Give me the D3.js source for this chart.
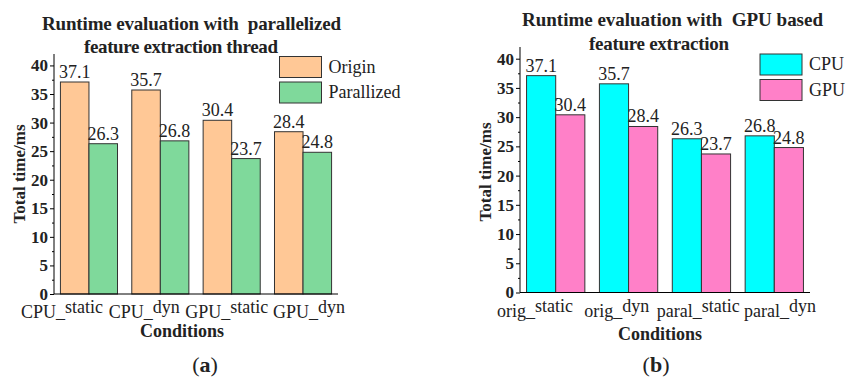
<!DOCTYPE html>
<html>
<head>
<meta charset="utf-8">
<script src="https://cdn.jsdelivr.net/npm/d3@7/dist/d3.min.js"></script>
<style>
  html, body { margin: 0; padding: 0; background: #fff; }
  svg text { font-family: "Liberation Serif", "DejaVu Serif", serif; fill: #222; }
  svg text.bold { font-weight: bold; }
  svg text.title { white-space: pre; }
</style>
</head>
<body>
<svg id="chart" width="846" height="378"></svg>
<script>
// ---- data -------------------------------------------------------
const condsA   = ['CPU_static', 'CPU_dyn', 'GPU_static', 'GPU_dyn'];
const originA  = [37.1, 35.7, 30.4, 28.4];
const parallA  = [26.3, 26.8, 23.7, 24.8];
const seriesA  = ['Origin', 'Parallized'];

const condsB   = ['orig_static', 'orig_dyn', 'paral_static', 'paral_dyn'];
const cpuB     = [37.1, 35.7, 26.3, 26.8];
const gpuB     = [30.4, 28.4, 23.7, 24.8];
const seriesB  = ['CPU', 'GPU'];

const yTicks   = [0, 5, 10, 15, 20, 25, 30, 35, 40];
const yMax     = 42;

// ---- one panel --------------------------------------------------
function panel(svg, o) {
  const g = svg.append('g');
  const x = d3.scaleBand().domain(o.conds).range([o.x0, o.x1])
    .paddingInner(0.2).paddingOuter(0.09);
  const xs = d3.scaleBand().domain([0, 1]).range([0, x.bandwidth()]);
  const y = d3.scaleLinear().domain([0, yMax]).range([o.y0, o.yTop]);

  // bars
  const rows = [];
  o.conds.forEach((c, i) => o.values.forEach((vals, s) =>
    rows.push({ c, s, v: vals[i] })));

  g.selectAll('rect.bar').data(rows).enter().append('rect')
    .attr('class', 'bar')
    .attr('x', d => x(d.c) + xs(d.s))
    .attr('y', d => y(d.v))
    .attr('width', xs.bandwidth())
    .attr('height', d => y(0) - y(d.v))
    .attr('fill', d => o.colors[d.s])
    .attr('stroke', '#333').attr('stroke-width', 1);

  g.selectAll('text.val').data(rows).enter().append('text')
    .attr('class', 'val')
    .attr('x', d => x(d.c) + xs(d.s) + xs.bandwidth() / 2)
    .attr('y', d => y(d.v) - 4)
    .attr('text-anchor', 'middle')
    .style('font-size', '18px')
    .text(d => d.v.toFixed(1));

  // y axis
  const minor = d3.range(0, yMax, 2.5).filter(v => v % 5 !== 0);
  g.append('g').attr('transform', `translate(${o.x0},0)`)
    .call(d3.axisLeft(y).tickValues(minor).tickSize(2).tickFormat(''))
    .call(a => a.select('.domain').remove());
  const ya = g.append('g').attr('transform', `translate(${o.x0},0)`)
    .call(d3.axisLeft(y).tickValues(yTicks).tickSize(4).tickSizeOuter(0).tickPadding(2));
  ya.selectAll('text').attr('class', 'bold').style('font-size', '17px').attr('fill', '#222');
  ya.select('.domain').attr('d', `M0,${y(yMax)}V${y(0)}`);

  // x axis
  g.append('line')
    .attr('x1', o.x0).attr('x2', o.x1).attr('y1', y(0)).attr('y2', y(0))
    .attr('stroke', '#000');

  const lx = d3.scalePoint().domain(o.conds).range(o.labRange);
  const lab = g.selectAll('text.xl').data(o.conds).enter().append('text')
    .attr('class', 'xl')
    .attr('x', d => lx(d))
    .attr('y', y(0) + 24)
    .attr('text-anchor', 'middle')
    .style('font-size', '18px');
  lab.append('tspan').text(d => d.split('_')[0] + '_');
  lab.append('tspan').attr('dy', -5).text(d => d.split('_')[1]);

  g.append('text').attr('class', 'bold')
    .attr('x', o.condX).attr('y', o.condY)
    .attr('text-anchor', 'middle')
    .style('font-size', '18px')
    .text('Conditions');

  g.append('text').attr('class', 'bold')
    .attr('transform', `translate(${o.ylabX},${o.ylabY}) rotate(-90)`)
    .attr('text-anchor', 'middle')
    .style('font-size', '17px')
    .text('Total time/ms');

  // title
  o.title.forEach((t, i) => g.append('text').attr('class', 'bold title')
    .attr('x', o.titleX[i]).attr('y', o.titleY[i])
    .attr('text-anchor', 'middle')
    .attr('textLength', o.titleW[i]).attr('lengthAdjust', 'spacing')
    .style('font-size', '19px')
    .text(t));

  // legend
  const lg = g.selectAll('g.leg').data(o.series).enter().append('g')
    .attr('class', 'leg')
    .attr('transform', (d, i) => `translate(${o.legX},${o.legY + i * 25.5})`);
  lg.append('rect').attr('width', 42).attr('height', 21)
    .attr('fill', (d, i) => o.colors[i])
    .attr('stroke', '#333').attr('stroke-width', 1);
  lg.append('text').attr('x', 49).attr('y', 16)
    .style('font-size', '18px')
    .text(d => d);

  // panel tag
  const tag = g.append('text')
    .attr('x', o.tagX).attr('y', 372)
    .attr('text-anchor', 'middle')
    .style('font-size', '22px');
  tag.append('tspan').text('(');
  tag.append('tspan').style('font-weight', 'bold').text(o.tag);
  tag.append('tspan').text(')');
}

const svg = d3.select('#chart');

panel(svg, {
  conds: condsA, values: [originA, parallA], series: seriesA,
  colors: ['#ffc896', '#7fd99b'],
  x0: 54, x1: 338, y0: 294, yTop: 54,
  labRange: [62, 309],
  condX: 182, condY: 337,
  ylabX: 25, ylabY: 174,
  title: ['Runtime evaluation with  parallelized', 'feature extraction thread'],
  titleX: [191.5, 181], titleY: [30, 53], titleW: [299, 194],
  legX: 279.5, legY: 56.5,
  tag: 'a', tagX: 205
});

panel(svg, {
  conds: condsB, values: [cpuB, gpuB], series: seriesB,
  colors: ['#00ffff', '#ff80c8'],
  x0: 520, x1: 810, y0: 292.5, yTop: 47,
  labRange: [535, 780],
  condX: 660, condY: 340,
  ylabX: 491, ylabY: 172,
  title: ['Runtime evaluation with  GPU based', 'feature extraction'],
  titleX: [672.5, 659], titleY: [26, 50], titleW: [301, 140],
  legX: 760, legY: 54,
  tag: 'b', tagX: 656
});
</script>
</body>
</html>
